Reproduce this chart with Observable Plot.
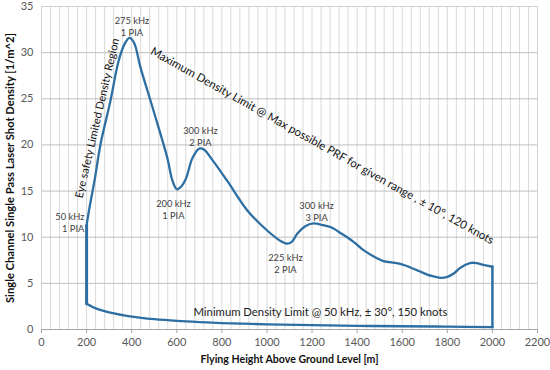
<!DOCTYPE html>
<html>
<head>
<meta charset="utf-8">
<script src="https://cdn.jsdelivr.net/npm/d3@7"></script>
<script src="https://cdn.jsdelivr.net/npm/@observablehq/plot@0.6"></script>
<style>
  html, body { margin: 0; padding: 0; background: #fff; }
  svg { font-family: Lato, "Liberation Sans", sans-serif; }
</style>
</head>
<body>
<div id="chart"></div>
<script>
// Upper boundary: maximum density limit (flying height m, density 1/m^2)
const upperHeight = [200, 215, 235, 262, 306, 342, 370, 390, 410, 439, 497, 558, 580, 600, 620, 640, 670, 700, 720, 760, 824, 913, 1002, 1060, 1090, 1110, 1135, 1170, 1206, 1250, 1282, 1330, 1384, 1428, 1490, 1517, 1592, 1667, 1730, 1769, 1800, 1830, 1858, 1900, 1930, 1960, 2000];
const upperDensity = [11.3, 13.5, 16.1, 20.1, 24.8, 29.1, 31.0, 31.6, 31.1, 28.4, 23.7, 18.6, 16.2, 15.2, 15.5, 16.3, 18.6, 19.6, 19.5, 18.3, 16.1, 12.9, 10.7, 9.6, 9.3, 9.5, 10.4, 11.2, 11.5, 11.3, 11.1, 10.4, 9.5, 8.6, 7.7, 7.4, 7.1, 6.4, 5.8, 5.6, 5.7, 6.1, 6.7, 7.2, 7.2, 7.0, 6.8];

// Lower boundary: minimum density limit
const lowerHeight = [200, 250, 300, 400, 500, 600, 700, 800, 1000, 1200, 1400, 1600, 1800, 2000];
const lowerDensity = [2.8, 2.2, 1.85, 1.4, 1.12, 0.93, 0.8, 0.7, 0.56, 0.47, 0.4, 0.35, 0.31, 0.25];

// Point annotations (PRF / pulses in air)
const annLabels = ["275 kHz\n1 PIA", "300 kHz\n2 PIA", "200 kHz\n1 PIA", "225 kHz\n2 PIA", "300 kHz\n3 PIA"];
const annHeight = [401, 705, 585, 1082, 1220];
const annDensity = [32.9, 21.0, 13.0, 7.15, 12.8];
const startLabel = "50 kHz\n1 PIA";

const xTicks = d3.range(0, 2201, 200);
const yTicks = d3.range(0, 36, 5);

const upper = upperHeight.map((h, i) => ({h, d: upperDensity[i]}));
const lower = lowerHeight.map((h, i) => ({h, d: lowerDensity[i]}));
const leftEdge = [lower[0], upper[0]];
const rightEdge = [upper[upper.length - 1], lower[lower.length - 1]];
const anns = annLabels.map((t, i) => ({t, h: annHeight[i], d: annDensity[i]}));

const lineColor = "#2e6fa3";

const chart = Plot.plot({
  width: 550,
  height: 370,
  marginTop: 6,
  marginBottom: 41,
  marginLeft: 41,
  marginRight: 13,
  x: {domain: [0, 2200]},
  y: {domain: [0, 35]},
  style: {fontFamily: "Lato, 'Liberation Sans', sans-serif", background: "#fff"},
  marks: [
    Plot.gridX(d3.range(0, 2201, 40), {stroke: "#d9d9d9", strokeOpacity: 1}),
    Plot.gridY(yTicks, {stroke: "#bfbfbf", strokeOpacity: 1}),
    Plot.frame({stroke: "#d0d0d0"}),
    Plot.ruleY([0], {stroke: "#a6a6a6"}),
    Plot.axisX(xTicks, {tickSize: 4, stroke: "#a6a6a6", fill: "#595959", fontSize: 11, tickPadding: 5, tickFormat: d3.format("d"), label: null}),
    Plot.axisY(yTicks, {tickSize: 0, fill: "#595959", fontSize: 11, tickPadding: 8, label: null}),
    Plot.line(upper, {x: "h", y: "d", curve: "catmull-rom", stroke: lineColor, strokeWidth: 2.3}),
    Plot.line(lower, {x: "h", y: "d", curve: "catmull-rom", stroke: lineColor, strokeWidth: 2.3}),
    Plot.line(leftEdge, {x: "h", y: "d", stroke: lineColor, strokeWidth: 3}),
    Plot.line(rightEdge, {x: "h", y: "d", stroke: lineColor, strokeWidth: 2.5}),
    Plot.text(anns, {x: "h", y: "d", text: "t", fontSize: 9.3, fill: "#404040", lineHeight: 1.3}),
    Plot.text([startLabel], {x: 190, y: 11.6, textAnchor: "end", fontSize: 9.3, fill: "#404040", lineHeight: 1.3}),
    Plot.text(["Eye safety Limited Density Region"], {x: 248, y: 22.9, rotate: -77, fontSize: 11, fill: "#111"}),
    Plot.text(["Maximum Density Limit @ Max possible PRF for given range , \u00b1 10\u00b0, 120 knots"], {x: 1245, y: 19.9, rotate: 29.2, fontSize: 11.4, fill: "#111"}),
    Plot.text(["Minimum Density Limit @ 50 kHz, \u00b1 30\u00b0, 150 knots"], {x: 674, y: 1.84, textAnchor: "start", fontSize: 11.3, fill: "#222"}),
    Plot.text(["Single Channel Single Pass Laser Shot Density [1/m^2]"], {frameAnchor: "left", textAnchor: "middle", rotate: -90, dx: -31, fontSize: 11.2, fontWeight: "bold", fill: "#111"}),
    Plot.text(["Flying Height Above Ground Level [m]"], {frameAnchor: "bottom", textAnchor: "middle", dy: 33, fontSize: 10.6, fontWeight: "bold", fill: "#111"})
  ]
});
document.getElementById("chart").append(chart);
</script>
</body>
</html>
